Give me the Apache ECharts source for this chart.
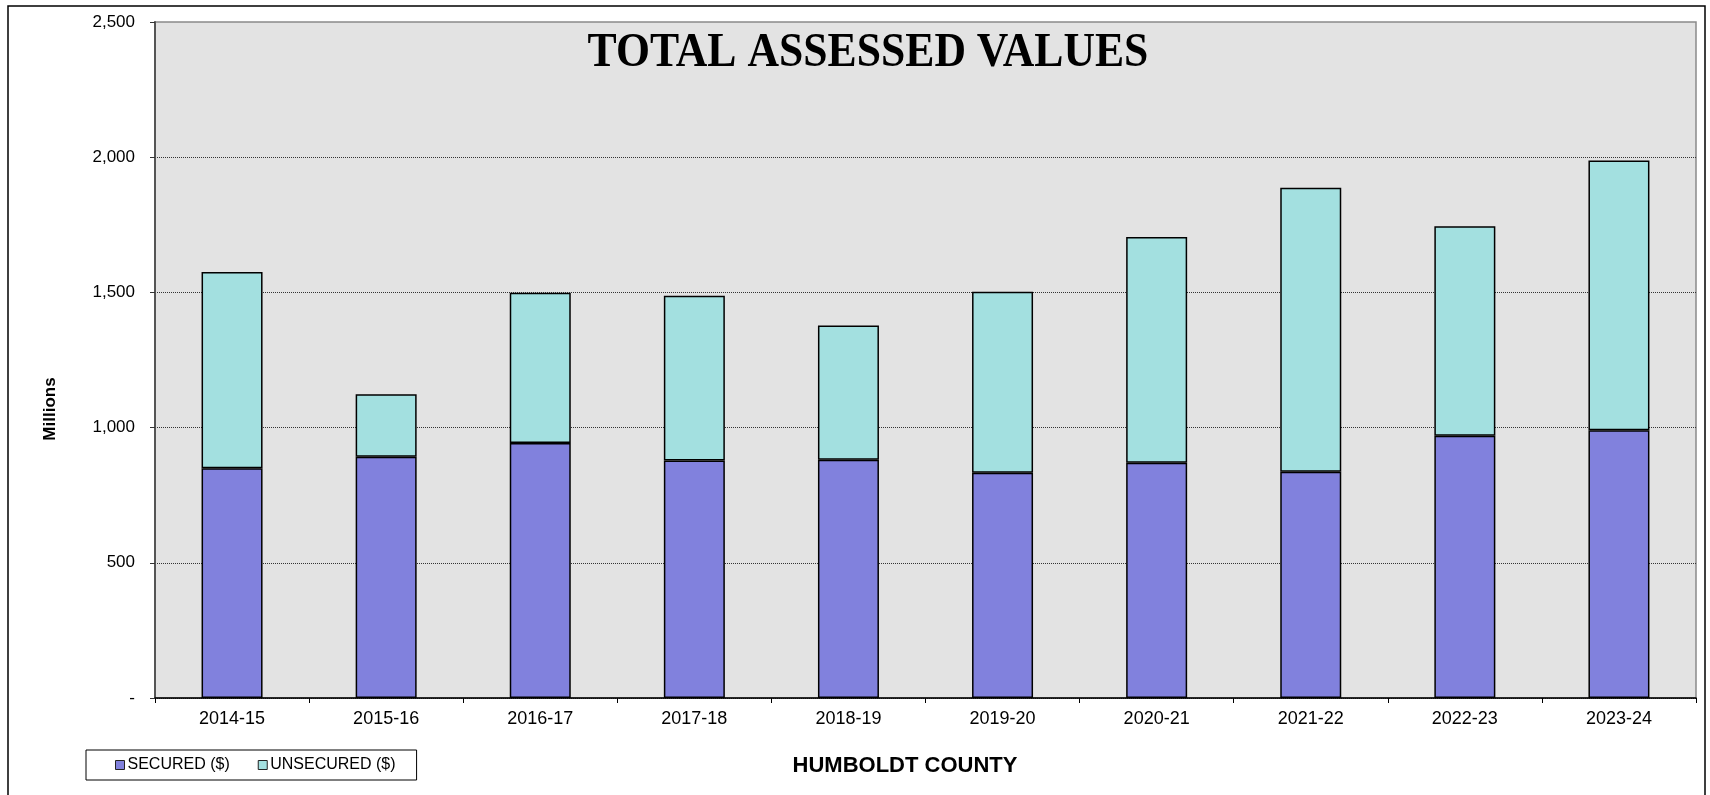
<!DOCTYPE html>
<html>
<head>
<meta charset="utf-8">
<script src="https://cdn.jsdelivr.net/npm/echarts@6/dist/echarts.min.js"></script>
<style>
html,body{margin:0;padding:0;background:#fff;}
#chart{width:1710px;height:795px;}
</style>
</head>
<body>
<div id="chart"></div>
<script>
const categories = ['2014-15','2015-16','2016-17','2017-18','2018-19','2019-20','2020-21','2021-22','2022-23','2023-24'];
const secured = [850, 892, 943, 878, 881, 833, 870, 837, 970, 990];
const unsecured = [725, 231, 556, 610, 497, 669, 835, 1050, 775, 998];
const seriesNames = ['SECURED ($)', 'UNSECURED ($)'];
const yTicks = [0, 500, 1000, 1500, 2000, 2500];

const chart = echarts.init(document.getElementById('chart'));
const fmt = v => v === 0 ? '-' : v.toLocaleString('en-US');

chart.setOption({
  animation: false,
  backgroundColor: '#fff',
  grid: {
    left: 155, right: 14, top: 22, bottom: 97,
    show: true, backgroundColor: '#e3e3e3', borderColor: '#8a8a8a', borderWidth: 1.5
  },
  xAxis: {
    type: 'category',
    data: categories,
    axisLine: {lineStyle: {color: '#000', width: 1.5}},
    axisTick: {show: true, length: 5, lineStyle: {color: '#000'}},
    axisLabel: {color: '#000', fontSize: 18, fontFamily: 'Liberation Sans', margin: 12}
  },
  yAxis: {
    type: 'value',
    min: yTicks[0], max: yTicks[yTicks.length - 1], interval: 500,
    axisLine: {show: true, lineStyle: {color: '#555', width: 2}},
    axisTick: {show: true, length: 5, lineStyle: {color: '#333'}},
    axisLabel: {color: '#000', fontSize: 17, fontFamily: 'Liberation Sans', margin: 20, formatter: fmt},
    splitLine: {show: true, showMaxLine: false, lineStyle: {color: '#333', type: 'dotted', width: 1}}
  },
  legend: {
    left: 86, top: 750,
    padding: [7, 21, 7, 29],
    itemGap: 28, itemWidth: 9, itemHeight: 9,
    icon: 'rect',
    borderColor: '#000', borderWidth: 1, backgroundColor: '#fff',
    itemStyle: {borderColor: '#222', borderWidth: 1},
    textStyle: {color: '#000', fontSize: 16, fontFamily: 'Liberation Sans', padding: [0, 0, 0, -2]},
    data: seriesNames
  },
  graphic: [
    {type: 'rect', silent: true, z: 100,
     shape: {x: 8, y: 6, width: 1697, height: 850},
     style: {fill: null, stroke: '#000', lineWidth: 1.5}},
    {type: 'text', silent: true, z: 100,
     x: 868, y: 54, scaleX: 0.91,
     style: {text: 'TOTAL ASSESSED VALUES', fill: '#000', font: 'bold 48px "Liberation Serif"',
             textAlign: 'center', textVerticalAlign: 'middle'}},
    {type: 'text', silent: true, z: 100,
     x: 50, y: 409, rotation: Math.PI / 2,
     style: {text: 'Millions', fill: '#000', font: 'bold 17px "Liberation Sans"',
             textAlign: 'center', textVerticalAlign: 'middle'}},
    {type: 'text', silent: true, z: 100,
     x: 905, y: 766,
     style: {text: 'HUMBOLDT COUNTY', fill: '#000', font: 'bold 22px "Liberation Sans"',
             textAlign: 'center', textVerticalAlign: 'middle'}}
  ],
  series: [
    {name: seriesNames[0], type: 'bar', stack: 'total', data: secured, barWidth: 61,
     itemStyle: {color: '#8181dd', borderColor: '#000', borderWidth: 1.5}},
    {name: seriesNames[1], type: 'bar', stack: 'total', data: unsecured, barWidth: 61,
     itemStyle: {color: '#a3e0e0', borderColor: '#000', borderWidth: 1.5}}
  ]
});
</script>
</body>
</html>
